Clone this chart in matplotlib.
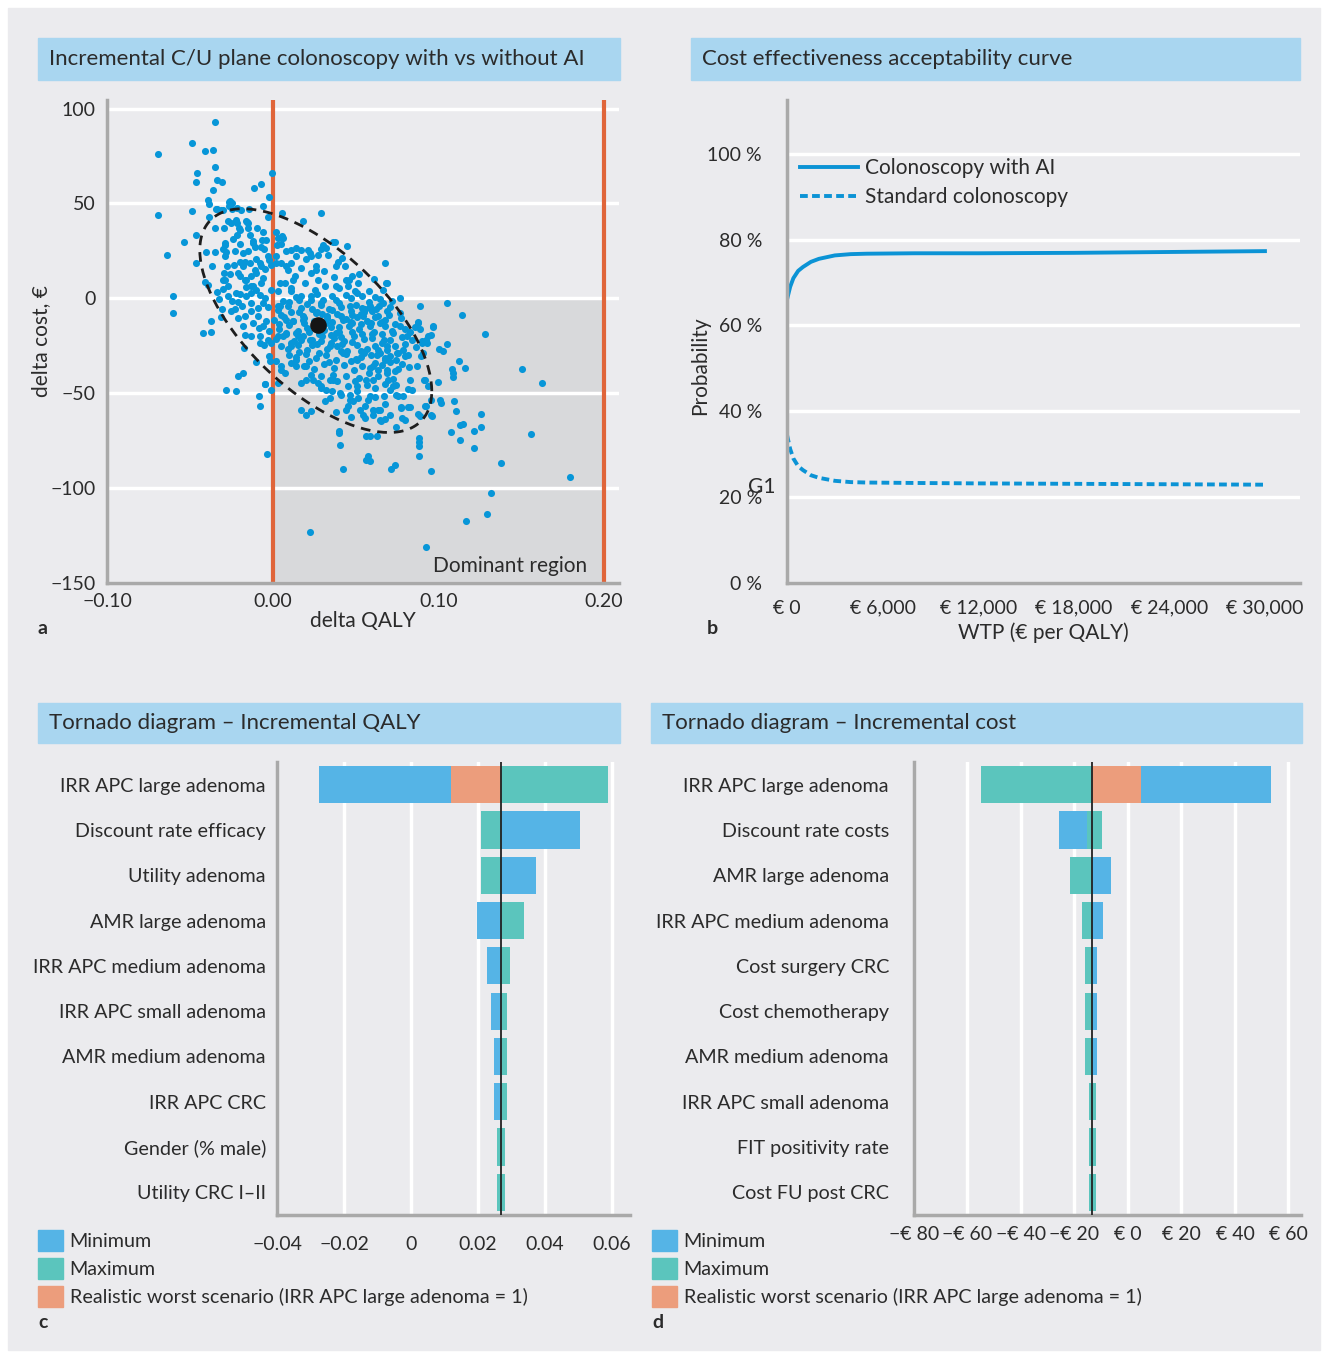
import numpy as np
import matplotlib
matplotlib.use("Agg")
import matplotlib.pyplot as plt
from matplotlib.patches import Rectangle, Patch

plt.rcParams['font.family'] = ['Lato', 'DejaVu Sans']

W, H = 1327, 1358
BG = '#ebebee'
TXT = '#2b2b2b'
BOX = '#a9d6f0'
SPINE = '#a9a9a9'
BLUE_PT = '#0796d8'
BLUE_BAR = '#55b4e6'
TEAL = '#5bc5bd'
ORANGE = '#ec9d7c'
RED = '#e0653a'

# ---- panel a: incremental cost/utility plane ----
delta_qaly = [
    -0.0694, -0.0694, -0.0488, -0.0409, -0.0358, -0.0349, -0.0349, -0.0455, -0.0465, -0.0335,
    -0.0308, -0.0363, -0.0391, -0.0382, -0.0488, -0.0340, -0.0312, -0.0261, -0.0265, -0.0215,
    -0.0113, -0.0069, -0.0021, -0.0002, -0.0058, 0.0058, 0.0183, 0.0294, 0.0446, 0.0365,
    0.0677, 0.0686, 0.0770,
    -0.0536, -0.0640, -0.0603, -0.0601, -0.0465, -0.0460, -0.0423, -0.0370, -0.0372, -0.0280,
    -0.0220, -0.0210, -0.0180, -0.0049, -0.0081, -0.0076, -0.0012, -0.0035, 0.0227, 0.0925,
    0.0881, 0.0881, 0.0881, 0.0885, 0.0955, 0.0714, 0.0740, 0.0423, 0.0562, 0.0590,
    0.0573, 0.0409, 0.0400, 0.0400, 0.0566, 0.0631, 0.0890, 0.0955, 0.0923, 0.0955,
    0.1010, 0.1013, 0.1075, 0.1133, 0.1151, 0.1131, 0.1105, 0.1094, 0.1214, 0.1214,
    0.1255, 0.1260, 0.1376, 0.1318, 0.1295, 0.1168, 0.1503, 0.1623, 0.1561, 0.1792,
    0.1052, 0.1145, 0.1283, 0.1052, 0.1006, 0.1026, 0.1126, 0.1160, 0.1083, 0.1089,
    0.1091, 0.1000, 0.0966, 0.0936, 0.0927, 0.0890, 0.0874, 0.0886, 0.0902, 0.0862,
    0.0897, 0.0913, 0.0936, 0.0839, 0.0816, 0.0775, 0.0918, 0.0959, 0.0874, 0.0828,
    0.0743, 0.0778, 0.0797, 0.0677, 0.0656, 0.0707, 0.0636,
    0.0606, 0.0590, 0.0556, 0.0586, 0.0576, 0.0673, 0.0747, 0.0757, 0.0773, 0.0677,
    0.0647, 0.0818, 0.0747, 0.0677, 0.0727, 0.0697, 0.0606, 0.0636, 0.0687, 0.0737,
    0.0757, 0.0580, 0.0636, 0.0918, 0.0934, 0.0954, 0.0902, 0.0838, 0.0818, 0.0797,
    0.0757, 0.0707, 0.0677, 0.0616, 0.0636, 0.0596, 0.0657,
    0.0691, 0.0667, 0.0667, 0.0691, 0.0707, 0.0767, 0.0777, 0.0878, 0.0969, 0.0858,
    0.0556, 0.0596, 0.0626, 0.0636, 0.0677, 0.0596, 0.0647,
    -0.0258, -0.0246, -0.0334, -0.0298, -0.0246, -0.0190, -0.0146, -0.0162, -0.0029, -0.0383,
    -0.0349, -0.0292, -0.0254, -0.0218, -0.0206, -0.0218, -0.0155, -0.0151, -0.0093, -0.0058,
    -0.0137, -0.0117, -0.0109, -0.0064, -0.0052, -0.0401, -0.0351, -0.0369, -0.0407, -0.0391,
    -0.0290, -0.0300, -0.0280, -0.0290, -0.0273, -0.0233, -0.0199, -0.0169, -0.0177, -0.0294,
    -0.0290, -0.0258, -0.0211, -0.0169, -0.0129, -0.0109, -0.0068, -0.0044, -0.0012, -0.0024,
    -0.0268, -0.0248, -0.0208, -0.0187, -0.0228, -0.0298, -0.0338, -0.0324, -0.0308, -0.0312,
    -0.0129, -0.0099, -0.0068, -0.0078, -0.0129, -0.0159, -0.0129, -0.0048, -0.0028, -0.0089,
    -0.0133, -0.0169, -0.0211, -0.0250,
    0.0022, 0.0032, 0.0056, 0.0028, 0.0052, 0.0022, 0.0052, 0.0083, 0.0113, 0.0143,
    0.0173, 0.0214, 0.0234, 0.0274, 0.0294, 0.0324, 0.0334, 0.0375, 0.0395, 0.0435,
    0.0476, 0.0516, 0.0455, 0.0496, 0.0536, 0.0113, 0.0173, 0.0234, 0.0274, 0.0193,
    0.0133, 0.0093, 0.0073, 0.0032, 0.0113, 0.0173, 0.0234, 0.0294, 0.0355, 0.0415,
    0.0476, 0.0355, 0.0314, 0.0254,
    -0.0173, -0.0048, -0.0098, -0.0024, -0.0016, -0.0169, -0.0133, -0.0078, -0.0052, -0.0008,
    0.0032, 0.0052, 0.0022, 0.0048, 0.0073, 0.0032, 0.0052, 0.0097, 0.0113, 0.0143,
    0.0173, 0.0203, 0.0199, 0.0173, 0.0234, 0.0274, 0.0294, 0.0345, 0.0365, 0.0324,
    0.0355, 0.0314, 0.0345, 0.0455, 0.0445, 0.0486, 0.0516, 0.0506, 0.0546, 0.0465,
    0.0415, 0.0455, 0.0496,
    0.006, 0.014, 0.021, 0.027, 0.038, 0.044, 0.050, 0.058, 0.062,
    0.003, 0.009, 0.016, 0.024, 0.030, 0.041, 0.047, 0.053, 0.064, 0.072,
    0.001, 0.007, 0.012, 0.019, 0.025, 0.033, 0.036, 0.044, 0.051, 0.057, 0.070, 0.074,
    0.004, 0.010, 0.015, 0.021, 0.031, 0.035, 0.040, 0.046, 0.052, 0.061, 0.066, 0.072, 0.080,
    0.002, 0.008, 0.013, 0.018, 0.024, 0.030, 0.037, 0.043, 0.049, 0.055, 0.060, 0.071, 0.078, 0.083,
    0.009, 0.015, 0.021, 0.027, 0.033, 0.039, 0.045, 0.051, 0.057, 0.074, 0.080,
    0.014, 0.020, 0.026, 0.032, 0.038, 0.044, 0.050, 0.055, 0.071, 0.078,
    0.019, 0.025, 0.031, 0.037, 0.043, 0.049, 0.054, 0.059, 0.066, 0.082,
    0.023, 0.029, 0.039, 0.044, 0.052, 0.057, 0.062, 0.071, 0.062, 0.056, 0.047, 0.038,
    0.040, 0.046, 0.052, 0.058, 0.061, 0.065, 0.020, 0.026, 0.031, 0.037, 0.042, 0.011, 0.016,
    -0.004, -0.008, -0.002, -0.012, -0.018, -0.006, -0.016, -0.020, -0.001, -0.003, -0.010, -0.015, -0.020, -0.024,
    0.003, 0.010, 0.017, 0.023, 0.029, 0.034, 0.040, 0.047, 0.054, 0.060,
    0.005, 0.011, 0.018, 0.027, 0.033, 0.039, 0.048, 0.055, 0.062, 0.068,
    0.004, 0.012, 0.019, 0.026, 0.032, 0.040, 0.047, 0.053, 0.059, 0.066,
    0.008, 0.015, 0.022, 0.028, 0.035, 0.041, 0.048, 0.054, 0.060, 0.067,
    0.011, 0.017, 0.024, 0.029, 0.035, 0.042, 0.048, 0.053, 0.062, 0.069,
    0.016, 0.022, 0.028, 0.034, 0.041, 0.047, 0.053, 0.063, 0.068, 0.075,
    -0.0300, -0.0270, -0.0220, -0.0199, -0.0159, -0.0119, -0.0099, -0.0078, -0.0139, -0.0179,
    -0.0230, -0.0290, -0.0119, -0.0068, -0.0038, -0.0199, -0.0149, -0.0220, -0.0270, -0.0058,
    -0.0088, -0.0058, -0.0028, -0.0078, 0.0042, 0.0083, 0.0062, 0.0113, 0.0143, 0.0203,
    0.0244, 0.0294, 0.0365, 0.0405, 0.0465, 0.0526, 0.0607, 0.0647, 0.0506, 0.0566,
    0.0607, 0.0647, 0.0687, 0.0727, 0.0768, 0.0808, 0.0788, 0.0747, 0.0687, 0.0727,
    0.0788, 0.0828, 0.0868, 0.0908, 0.0425, 0.0465, 0.0506, 0.0586, 0.0546, 0.0385,
    0.0345, 0.0425, 0.0506, 0.0304, 0.0264, 0.0183, 0.0143, 0.0224, 0.0304, 0.0385,
    0.0445, 0.0123, 0.0083, 0.0143, 0.0224, 0.0304, 0.0385, 0.0264, 0.0042, 0.0022,
    0.0062,
]
delta_cost = [
    76.3, 44.0, 81.6, 77.4, 78.2, 92.9, 69.4, 66.2, 61.3, 62.4,
    61.3, 57.1, 51.9, 49.6, 46.2, 47.0, 46.6, 50.8, 48.5, 47.7,
    57.9, 60.0, 53.4, 66.0, 48.7, 44.7, 41.0, 44.9, 27.8, 29.9,
    18.4, 7.9, 0.2,
    29.7, 22.9, 1.3, -7.5, 33.5, 18.4, -18.4, -17.7, -11.7, -48.1,
    -48.7, -41.0, -39.3, -45.3, -51.5, -56.6, -48.1, -82.0, -123.3, -131.2,
    -73.5, -78.0, -83.0, -75.6, -90.8, -90.0, -88.0, -89.7, -85.3, -85.7,
    -82.9, -77.1, -71.1, -69.7, -72.6, -72.6, -62.2, -61.3, -56.6, -53.8,
    -53.4, -55.3, -70.3, -74.4, -66.0, -66.5, -59.4, -54.3, -69.7, -79.1,
    -60.9, -67.9, -86.8, -102.6, -113.5, -117.3, -37.2, -44.4, -71.6, -94.2,
    -2.4, -8.6, -19.0, -24.1, -26.7, -27.9, -32.9, -36.8, -37.3, -39.4,
    -41.2, -44.0, -15.2, -19.9, -21.8, -3.8, -12.8, -16.2, -23.7, -25.6,
    -30.3, -43.0, -46.2, -48.1, -57.5, -57.1, -56.5, -61.8, -61.2, -57.4,
    -67.9, -63.0, -64.2, -63.5, -64.4, -61.4, -58.9,
    -61.6, -72.6, -63.0, -51.6, -53.4, -51.3, -50.7, -51.6, -57.7, -55.9,
    -58.6, -47.8, -45.5, -44.9, -42.5, -42.8, -42.8, -40.7, -37.6, -38.4,
    -37.2, -39.3, -37.6, -42.8, -23.5, -19.2, -22.7, -21.8, -29.7, -30.6,
    -28.8, -30.6, -32.3, -34.1, -27.0, -29.7, -23.5,
    8.1, 4.6, -2.5, -6.5, -4.7, -7.7, -10.5, -12.6, -14.7, -15.2,
    -5.8, -5.8, -5.8, -9.4, -14.6, -12.9, -12.9,
    51.2, 50.2, 47.0, 46.6, 47.0, 46.6, 47.3, 41.0, 42.6, 43.1,
    37.0, 37.0, 39.9, 39.6, 37.0, 33.5, 40.3, 37.3, 37.3, 35.0,
    33.2, 30.2, 27.2, 30.5, 26.0, 24.5, 24.2, 16.8, 8.8, 7.1,
    29.1, 26.0, 24.2, 22.1, 16.8, 17.7, 19.4, 19.4, 16.8, 13.3,
    9.8, 13.0, 13.3, 9.8, 11.5, 15.1, 16.8, 15.4, 17.7, 20.0,
    1.3, -1.3, -2.2, -4.0, -5.7, 4.8, 3.4, -0.5, -5.7, -10.1,
    6.3, 4.6, 8.1, 2.0, 2.8, 1.1, -2.4, 0.3, -4.6, -4.9,
    -6.6, -9.3, -10.2, -6.6,
    35.2, 31.7, 32.6, 28.2, 28.6, 22.1, 18.6, 24.7, 25.6, 26.5,
    25.6, 25.6, 22.1, 22.9, 26.1, 26.5, 22.8, 29.9, 19.4, 16.8,
    11.5, 8.0, 6.3, 3.7, 1.0, 18.6, 16.0, 13.3, 9.8, 8.0,
    11.5, 15.0, 8.0, 3.7, 3.7, 1.0, 1.0, -2.4, -5.9, -9.4,
    -12.9, 1.0, 6.3, 4.6,
    -26.2, -45.1, -33.6, -30.6, -33.2, -19.2, -20.0, -23.5, -24.4, -23.5,
    -20.0, -25.3, -33.2, -37.6, -39.3, -44.6, -35.8, -29.7, -34.1, -35.8,
    -44.6, -42.8, -61.3, -58.6, -59.5, -44.6, -41.1, -42.8, -40.2, -48.1,
    -49.0, -54.2, -52.5, -56.9, -58.6, -54.2, -52.5, -49.0, -61.3, -50.7,
    -50.7, -46.3, -43.7,
    -1.5, 0.5, -3.0, 2.5, -1.0, 1.5, -3.5, -1.8, 0.8,
    -6.2, -4.0, -7.1, -5.5, -8.0, -4.6, -6.8, -8.3, -3.9, -1.2,
    -11.5, -9.8, -12.1, -10.4, -11.8, -9.2, -12.6, -11.0, -10.1, -11.9, -9.0, -13.5,
    -16.0, -14.3, -17.2, -15.5, -16.8, -15.0, -17.5, -14.6, -16.3, -17.8, -18.9, -17.0, -16.0,
    -21.4, -19.0, -22.3, -20.1, -21.9, -19.6, -21.0, -22.7, -19.8, -21.5, -18.9, -22.0, -20.5, -18.0,
    -26.8, -24.5, -27.3, -24.0, -26.5, -25.1, -27.8, -24.6, -26.9, -25.3, -24.0,
    -30.9, -29.2, -31.5, -30.0, -32.4, -29.5, -31.8, -28.7, -33.5, -34.5,
    -35.4, -37.0, -34.6, -36.9, -35.2, -38.0, -35.8, -36.5, -35.0, -36.0,
    -40.5, -47.0, -43.5, -41.0, -42.2, -45.8, -47.5, -48.5, -52.0, -56.5, -62.5, -60.0,
    5.2, 9.5, 12.8, 4.0, 10.0, -0.5, 20.5, 17.0, 14.5, 11.0, 21.5, 5.5, -1.0,
    -12.0, -15.5, -17.0, -12.8, -14.5, 10.5, 5.8, 2.5, 4.2, 22.5, 20.8, 25.0, 28.5, 31.0,
    -3.8, -2.0, -4.9, -0.9, -3.3, -5.8, -2.6, 0.3, -5.2, -6.9,
    -8.7, -7.4, -9.3, -7.0, -10.6, -8.1, -9.0, -7.2, -9.8, -11.3,
    -13.7, -12.0, -13.2, -14.4, -13.0, -14.9, -12.6, -13.4, -14.7, -12.5,
    -18.3, -19.8, -17.9, -18.6, -19.5, -20.2, -17.6, -18.8, -20.9, -21.7,
    -23.4, -22.0, -24.8, -22.7, -23.6, -24.2, -23.0, -28.0, -25.0, -27.4,
    -28.3, -33.0, -28.9, -33.8, -27.6, -33.0, -30.7, -29.8, -31.2, -29.0,
    9.8, 6.3, 2.8, 11.5, 9.8, 6.3, 13.3, 18.6, 18.6, 23.8,
    24.7, 28.2, 29.1, 27.3, 30.8, 36.1, 39.6, 41.4, 40.5, -2.5,
    -9.5, -14.8, -21.8, -20.1, -4.3, -11.3, -20.1, -25.3, -32.3, -35.8,
    -42.8, -46.4, -42.8, -49.8, -53.4, -58.6, -58.6, -63.9, -46.4, -42.8,
    -35.8, -28.8, -25.3, -18.3, -14.8, -20.1, -27.1, -32.3, -39.3, -46.4,
    -51.6, -42.8, -35.8, -28.8, -11.3, -4.3, 2.8, -4.3, -9.5, -18.3,
    -25.3, -28.8, -32.3, -14.8, -7.7, -11.3, -18.3, -21.8, -0.7, 6.3,
    9.8, 9.8, 16.8, 22.1, 23.8, 28.2, 16.8, 15.1, 8.1, 18.6,
    31.7,
]
mean_qaly, mean_cost = 0.0271, -13.9
# confidence ellipse: centre, x half-width, y half-height, covariance term
ell_cx, ell_cy = 0.026, -11.75
ell_sx, ell_sy, ell_sxy = 0.070, 58.95, -2.6

# ---- panel b: CEAC ----
wtp = [0, 200, 400, 700, 1000, 1500, 2000, 3000, 4000, 5000, 8000, 12000, 18000, 24000, 30000]
p_ai = [66.0, 69.0, 71.0, 72.7, 73.6, 74.8, 75.5, 76.3, 76.6, 76.7, 76.8, 76.8, 76.9, 77.1, 77.3]
p_std = [34.5, 31.2, 29.0, 27.2, 26.3, 25.1, 24.5, 23.8, 23.5, 23.4, 23.3, 23.2, 23.1, 23.0, 22.9]

# ---- panel c: tornado QALY ----
qaly_params = ['IRR APC large adenoma', 'Discount rate efficacy', 'Utility adenoma',
               'AMR large adenoma', 'IRR APC medium adenoma', 'IRR APC small adenoma',
               'AMR medium adenoma', 'IRR APC CRC', 'Gender (% male)', 'Utility CRC I–II']
qaly_base = 0.0269
qaly_min_lo = [-0.0275, 0.0269, 0.0269, 0.0197, 0.0227, 0.0239, 0.0248, 0.0248, 0.0260, 0.0260]
qaly_min_hi = [0.0269, 0.0504, 0.0373, 0.0269, 0.0269, 0.0269, 0.0269, 0.0269, 0.0269, 0.0269]
qaly_max_lo = [0.0269, 0.0209, 0.0209, 0.0269, 0.0269, 0.0269, 0.0269, 0.0269, 0.0257, 0.0257]
qaly_max_hi = [0.0588, 0.0269, 0.0269, 0.0337, 0.0296, 0.0287, 0.0287, 0.0287, 0.0281, 0.0281]
qaly_worst = 0.0119

# ---- panel d: tornado cost ----
cost_params = ['IRR APC large adenoma', 'Discount rate costs', 'AMR large adenoma',
               'IRR APC medium adenoma', 'Cost surgery CRC', 'Cost chemotherapy',
               'AMR medium adenoma', 'IRR APC small adenoma', 'FIT positivity rate',
               'Cost FU post CRC']
cost_base = -13.6
cost_min_lo = [-13.6, -25.8, -13.6, -13.6, -13.6, -13.6, -13.6, -13.6, -13.6, -13.6]
cost_min_hi = [53.5, -13.6, -6.4, -9.3, -11.6, -11.6, -11.6, -12.4, -12.4, -12.4]
cost_max_lo = [-55.0, -15.2, -21.7, -17.2, -16.1, -16.1, -16.1, -14.6, -14.6, -14.6]
cost_max_hi = [-13.6, -9.7, -13.6, -13.6, -13.6, -13.6, -13.6, -12.0, -12.0, -12.0]
cost_worst = 4.9

legend_labels = ['Minimum', 'Maximum', 'Realistic worst scenario (IRR APC large adenoma = 1)']


def rect(l, t, r, b):
    return [l / W, 1 - b / H, (r - l) / W, (b - t) / H]


def title_box(l, t, r, b, text):
    fig.patches.append(Rectangle((l / W, 1 - b / H), (r - l) / W, (b - t) / H,
                                 transform=fig.transFigure, color=BOX, zorder=0))
    fig.text((l + 11) / W, 1 - (t + b) / 2 / H, text, fontsize=16, color=TXT,
             va='center', ha='left')


def style(ax):
    ax.set_facecolor('none')
    for s in ['top', 'right']:
        ax.spines[s].set_visible(False)
    for s in ['left', 'bottom']:
        ax.spines[s].set_color(SPINE)
        ax.spines[s].set_linewidth(2.5)
        ax.spines[s].set_zorder(5)
    ax.tick_params(length=0, labelsize=14, colors=TXT)
    ax.set_axisbelow(True)


fig = plt.figure(figsize=(W / 100, H / 100), dpi=100, facecolor='white')
fig.patches.append(Rectangle((8 / W, 1 - 1350 / H), 1312 / W, 1342 / H,
                             transform=fig.transFigure, color=BG, zorder=-5))

title_box(38, 38, 620, 80, 'Incremental C/U plane colonoscopy with vs without AI')
title_box(691, 38, 1300, 80, 'Cost effectiveness acceptability curve')
title_box(38, 703, 620, 743, 'Tornado diagram – Incremental QALY')
title_box(651, 703, 1302, 743, 'Tornado diagram – Incremental cost')

for lx, ly, letter in [(38, 628, 'a'), (707, 628, 'b'), (38, 1323, 'c'), (652, 1323, 'd')]:
    fig.text(lx / W, 1 - ly / H, letter, fontsize=14, fontweight='bold', color=TXT,
             va='center', ha='left')

# ---------------- a ----------------
ax = fig.add_axes(rect(107, 100, 619, 583))
style(ax)
ax.set_xlim(-0.1, 0.209)
ax.set_ylim(-150, 104.5)
ax.add_patch(Rectangle((0, -150), 0.2, 150, color='#d8d9db', lw=0, zorder=0.1))
ax.yaxis.grid(True, color='white', lw=2.5)
ax.set_yticks([-150, -100, -50, 0, 50, 100])
ax.set_yticklabels(['−150', '−100', '−50', '0', '50', '100'])
ax.set_xticks([-0.1, 0, 0.1, 0.2])
ax.set_xticklabels(['−0.10', '0.00', '0.10', '0.20'])
ax.tick_params(axis='y', pad=8)
ax.tick_params(axis='x', pad=7)
ax.axvline(0, color=RED, lw=3, zorder=1)
ax.axvline(0.2, color=RED, lw=3, zorder=1)
ax.scatter(delta_qaly, delta_cost, s=26, color=BLUE_PT, lw=0, zorder=2)
t = np.linspace(0, 2 * np.pi, 200)
a21 = ell_sxy / ell_sx
a22 = np.sqrt(ell_sy ** 2 - a21 ** 2)
ax.plot(ell_cx + ell_sx * np.cos(t), ell_cy + a21 * np.cos(t) + a22 * np.sin(t),
        color='#1e1e1e', lw=2, ls=(0, (3.5, 2.5)), zorder=3)
ax.scatter([mean_qaly], [mean_cost], s=120, color='#151515', zorder=4)
ax.text(0.19, -141, 'Dominant region', fontsize=15, color=TXT, ha='right', va='center')
ax.set_xlabel('delta QALY', fontsize=15, color=TXT, labelpad=1)
ax.set_ylabel('delta cost, €', fontsize=15, color=TXT, labelpad=0)

# ---------------- b ----------------
ax = fig.add_axes(rect(787, 100, 1300, 583))
style(ax)
ax.set_xlim(0, 32200)
ax.set_ylim(0, 112.5)
ax.yaxis.grid(True, color='white', lw=2.5)
ax.set_yticks([0, 20, 40, 60, 80, 100])
ax.set_yticklabels(['0 %', '20 %', '40 %', '60 %', '80 %', '100 %'])
ax.set_xticks([0, 6000, 12000, 18000, 24000, 30000])
ax.set_xticklabels(['€ 0', '€ 6,000', '€ 12,000', '€ 18,000', '€ 24,000', '€ 30,000'])
ax.tick_params(axis='y', pad=18)
ax.tick_params(axis='x', pad=12)
ax.plot(wtp, p_ai, color='#0b93d5', lw=2.8, label='Colonoscopy with AI')
ax.plot(wtp, p_std, color='#0b93d5', lw=2.8, ls=(0, (2, 1.1)), label='Standard colonoscopy')
ax.legend(loc='upper left', bbox_to_anchor=(0.025, 0.88), frameon=False, fontsize=15,
          handlelength=2.8, handletextpad=0.35, labelspacing=0.45, borderpad=0,
          borderaxespad=0, labelcolor=TXT)
ax.set_xlabel('WTP (€ per QALY)', fontsize=15, color=TXT, labelpad=4)
ax.set_ylabel('Probability', fontsize=15, color=TXT)
ax.yaxis.set_label_coords(-0.15, 0.45)
fig.text(748 / W, 1 - 487 / H, 'G1', fontsize=15, color=TXT, va='center', ha='left')

# ---------------- c / d tornado ----------------
def tornado(ax, params, min_lo, min_hi, max_lo, max_hi, base, worst):
    style(ax)
    y = np.arange(len(params))
    ax.barh(y, np.array(min_hi) - np.array(min_lo), left=min_lo, height=0.82,
            color=BLUE_BAR, lw=0, zorder=2)
    ax.barh(y, np.array(max_hi) - np.array(max_lo), left=max_lo, height=0.82,
            color=TEAL, lw=0, zorder=3)
    ax.barh([0], [base - worst], left=[worst], height=0.82, color=ORANGE, lw=0, zorder=4)
    ax.axvline(base, color='#222222', lw=1.3, zorder=6)
    ax.set_ylim(len(params) - 0.5, -0.5)
    ax.set_yticks(y)
    ax.set_yticklabels(params, fontsize=14.2)
    ax.xaxis.grid(True, color='white', lw=2.5)


ax = fig.add_axes(rect(277, 762, 630, 1215))
tornado(ax, qaly_params, qaly_min_lo, qaly_min_hi, qaly_max_lo, qaly_max_hi, qaly_base, qaly_worst)
ax.set_xlim(-0.04, 0.0654)
ax.set_xticks([-0.04, -0.02, 0, 0.02, 0.04, 0.06])
ax.set_xticklabels(['−0.04', '−0.02', '0', '0.02', '0.04', '0.06'])
ax.tick_params(axis='y', pad=8)
ax.tick_params(axis='x', pad=15)

ax = fig.add_axes(rect(914, 762, 1301, 1215))
tornado(ax, cost_params, cost_min_lo, cost_min_hi, cost_max_lo, cost_max_hi, cost_base, cost_worst)
ax.set_xlim(-80, 64.7)
ax.set_xticks([-80, -60, -40, -20, 0, 20, 40, 60])
ax.set_xticklabels(['−€ 80', '−€ 60', '−€ 40', '−€ 20', '€ 0', '€ 20', '€ 40', '€ 60'])
ax.tick_params(axis='y', pad=18)
ax.tick_params(axis='x', pad=8)

handles = [Patch(color=BLUE_BAR), Patch(color=TEAL), Patch(color=ORANGE)]
for lx in (38, 652):
    fig.legend(handles, legend_labels, loc='upper left',
               bbox_to_anchor=(lx / W, 1 - 1230 / H), frameon=False, fontsize=14.2,
               handlelength=1.25, handleheight=1.25, handletextpad=0.35,
               labelspacing=0.36, borderaxespad=0, borderpad=0, labelcolor=TXT)

fig.savefig('out.png', dpi=100, facecolor='white')
